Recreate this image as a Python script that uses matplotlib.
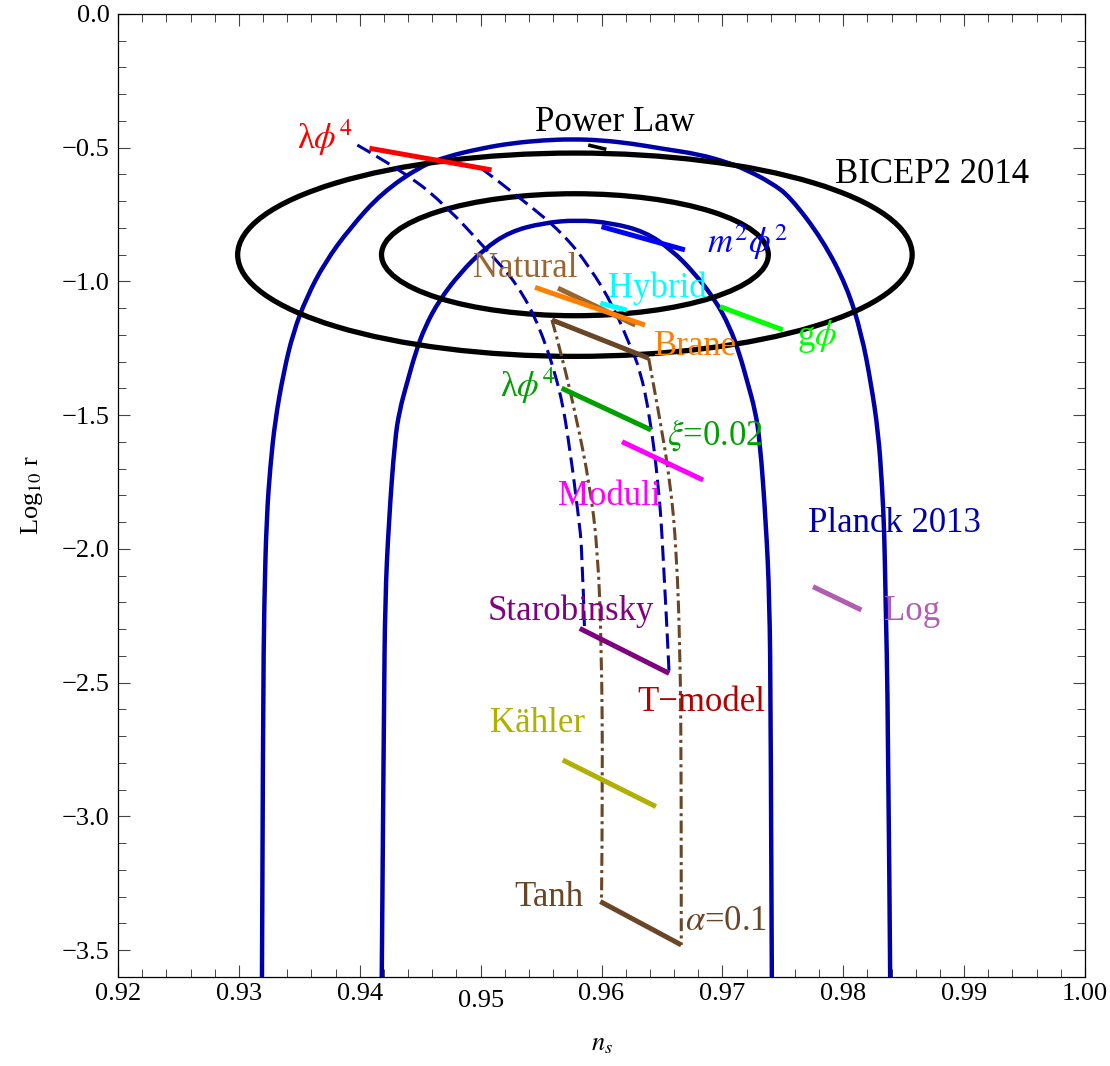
"""ns - log10 r plane: Planck 2013 / BICEP2 2014 contours with inflation model predictions."""
import numpy as np
import matplotlib

matplotlib.use("Agg")
import matplotlib.pyplot as plt
from matplotlib.patches import Ellipse, PathPatch
from matplotlib.path import Path
from matplotlib.ticker import MultipleLocator, FuncFormatter

plt.rcParams["font.family"] = ["Liberation Serif", "DejaVu Serif"]
plt.rcParams["mathtext.fontset"] = "stix"

# Planck 2013 contours (ns, log10 r)
planck_out_ns = [0.9319, 0.9320, 0.9321, 0.9323, 0.9326, 0.9330, 0.9337, 0.9345, 0.9356,
                 0.9371, 0.9392, 0.9418, 0.9450, 0.9472, 0.9501, 0.9526, 0.9552, 0.9576,
                 0.9600, 0.9626, 0.9652, 0.9680, 0.9705, 0.9720, 0.9740, 0.9756, 0.9783,
                 0.9803, 0.9815, 0.9823, 0.9829, 0.9832, 0.9834, 0.9835, 0.9837, 0.9839]
planck_out_lr = [-3.70, -2.60, -2.19, -1.88, -1.69, -1.52, -1.34, -1.19, -1.06,
                 -0.93, -0.80, -0.67, -0.57, -0.533, -0.502, -0.483, -0.472, -0.468,
                 -0.472, -0.485, -0.505, -0.524, -0.556, -0.583, -0.630, -0.683, -0.845,
                 -1.019, -1.194, -1.381, -1.567, -1.754, -1.941, -2.19, -2.60, -3.70]
planck_in_ns = [0.9418, 0.9420, 0.9421, 0.9424, 0.9429, 0.9433, 0.9439, 0.9446, 0.9454,
                0.9466, 0.9483, 0.9502, 0.9524, 0.9552, 0.9580, 0.9608, 0.9636, 0.9658,
                0.9677, 0.9694, 0.9706, 0.9714, 0.9721, 0.9727, 0.9731, 0.9736, 0.9739,
                0.9740, 0.9741]
planck_in_lr = [-3.70, -2.60, -2.19, -1.90, -1.593, -1.480, -1.381, -1.268, -1.169,
                -1.069, -0.969, -0.882, -0.814, -0.781, -0.770, -0.781, -0.814, -0.882,
                -0.969, -1.069, -1.169, -1.268, -1.381, -1.480, -1.593, -1.90, -2.19,
                -2.60, -3.70]

# BICEP2 2014 ellipses: centre, half widths (ns, log10 r)
bicep_center = (0.9578, -0.90)
bicep_half_ns = [0.0279, 0.0160]
bicep_half_lr = [0.380, 0.228]

# blue dashed (phi^2 .. phi^4 family) and brown dash-dot (tanh family) tracks
dash_left_ns = [0.9398, 0.9439, 0.9472, 0.9505, 0.9530, 0.9549, 0.9566, 0.9574, 0.9581, 0.9584, 0.9586]
dash_left_lr = [-0.490, -0.596, -0.720, -0.882, -1.007, -1.169, -1.406, -1.630, -1.879, -2.004, -2.309]
dash_right_ns = [0.9500, 0.9535, 0.9568, 0.9590, 0.9610, 0.9624, 0.9632, 0.9640, 0.9647, 0.9651, 0.9656]
dash_right_lr = [-0.575, -0.695, -0.820, -0.944, -1.094, -1.244, -1.331, -1.505, -1.754, -2.004, -2.471]
dd_left_ns = [0.9559, 0.9566, 0.9579, 0.9590, 0.9597, 0.9600, 0.9601, 0.9600]
dd_left_lr = [-1.144, -1.256, -1.505, -1.754, -2.004, -2.378, -2.864, -3.318]
dd_right_ns = [0.9639, 0.9648, 0.9657, 0.9662, 0.9665, 0.9666, 0.9666]
dd_right_lr = [-1.287, -1.505, -1.754, -2.004, -2.378, -2.826, -3.480]

# model segments: (ns0, lr0) -> (ns1, lr1)
seg_name = ["lphi4", "power", "m2phi2", "natural", "brane", "hybrid", "tanh_top", "gphi",
            "lphi4_xi", "moduli", "starobinsky", "kahler", "tanh", "log"]
seg_ns0 = [0.9408, 0.9589, 0.9600, 0.9564, 0.9545, 0.9599, 0.9559, 0.9698,
           0.9567, 0.9617, 0.9582, 0.9568, 0.9599, 0.9775]
seg_lr0 = [-0.502, -0.490, -0.795, -1.025, -1.022, -1.081, -1.144, -1.094,
           -1.399, -1.599, -2.297, -2.789, -3.318, -2.141]
seg_ns1 = [0.9509, 0.9604, 0.9669, 0.9628, 0.9636, 0.9621, 0.9639, 0.9750,
           0.9641, 0.9684, 0.9656, 0.9645, 0.9666, 0.9815]
seg_lr1 = [-0.583, -0.506, -0.882, -1.163, -1.163, -1.107, -1.287, -1.181,
           -1.555, -1.742, -2.465, -2.963, -3.480, -2.228]
seg_color = ["#ff0000", "#000000", "#0000ff", "#996633", "#ff8000", "#00ffff", "#6b4626", "#00ff00",
             "#00a000", "#ff00ff", "#800080", "#b0b000", "#6b4626", "#b05fb0"]

# labels (left edge ns, baseline log10 r)
lab_text = [r"λ$\phi^4$", "Power Law", "BICEP2 2014", r"$m^2\phi^2$", "Natural", "Hybrid",
            "Brane", r"g$\phi$", r"λ$\phi^4$", r"$\xi$=0.02", "Moduli", "Planck 2013", "Log",
            "Starobinsky", "T\u2212model", "Kähler", "Tanh", r"$\alpha$=0.1"]
lab_ns = [0.9348, 0.9545, 0.9793, 0.9687, 0.9494, 0.9605, 0.9643, 0.9762, 0.9516, 0.9654,
          0.9564, 0.9771, 0.9834, 0.9506, 0.9630, 0.9508, 0.9528, 0.9669]
lab_lr = [-0.505, -0.437, -0.632, -0.894, -0.982, -1.057, -1.275, -1.237, -1.431, -1.611,
          -1.836, -1.935, -2.265, -2.265, -2.604, -2.683, -3.335, -3.424]
lab_color = ["#ff0000", "#000000", "#000000", "#0000ff", "#996633", "#00ffff", "#ff8000",
             "#00ff00", "#00a000", "#00a000", "#ff00ff", "#0000a8", "#b05fb0", "#800080",
             "#b30000", "#b0b000", "#6b4626", "#6b4626"]

PLANCK = "#0000a8"
BROWN = "#6b4626"


def fmt(v, _pos, nd):
    s = f"{v:.{nd}f}"
    if float(s) == 0:
        s = f"{0:.{nd}f}"
    return s.replace("-", "\u2212")


def smooth_curve(ax, xs, ys, **kw):
    """Draw the read points as a smooth quadratic-Bezier path (like Mathematica's curves)."""
    pts = np.column_stack([xs, ys])
    verts, codes = [pts[0]], [Path.MOVETO]
    n = len(pts)
    for i in range(1, n - 1):
        end = pts[i + 1] if i == n - 2 else (pts[i] + pts[i + 1]) / 2
        verts += [pts[i], end]
        codes += [Path.CURVE3, Path.CURVE3]
    ax.add_patch(PathPatch(Path(verts, codes), fill=False, **kw))


def main() -> None:
    fig = plt.figure(figsize=(11.1, 10.66), dpi=100)
    ax = fig.add_axes([0.1063, 0.0835, 0.8712, 0.9034])

    smooth_curve(ax, planck_out_ns, planck_out_lr, ec=PLANCK, lw=3.2, zorder=2)
    smooth_curve(ax, planck_in_ns, planck_in_lr, ec=PLANCK, lw=3.2, zorder=2)

    for hx, hy in zip(bicep_half_ns, bicep_half_lr):
        ax.add_patch(Ellipse(bicep_center, 2 * hx, 2 * hy, fill=False, ec="black", lw=3.8, zorder=3))

    smooth_curve(ax, dash_left_ns, dash_left_lr, ec=PLANCK, lw=2.2, ls=(0, (5, 2.2)), zorder=4)
    smooth_curve(ax, dash_right_ns, dash_right_lr, ec=PLANCK, lw=2.2, ls=(0, (5, 2.2)), zorder=4)
    smooth_curve(ax, dd_left_ns, dd_left_lr, ec=BROWN, lw=2.2, ls=(0, (4.2, 1.4, 1.0, 1.4)), zorder=4)
    smooth_curve(ax, dd_right_ns, dd_right_lr, ec=BROWN, lw=2.2, ls=(0, (4.2, 1.4, 1.0, 1.4)), zorder=4)

    for x0, y0, x1, y1, c in zip(seg_ns0, seg_lr0, seg_ns1, seg_lr1, seg_color):
        lw = 2.6 if c == "#000000" else 3.6
        ax.plot([x0, x1], [y0, y1], color=c, lw=lw, solid_capstyle="butt", zorder=5)

    for t, x, y, c in zip(lab_text, lab_ns, lab_lr, lab_color):
        ax.text(x, y, t, color=c, fontsize=25, ha="left", va="baseline", zorder=6)

    ax.set_xlim(0.92, 1.00)
    ax.set_ylim(-3.6, 0.0)
    ax.xaxis.set_major_locator(MultipleLocator(0.01))
    ax.xaxis.set_minor_locator(MultipleLocator(0.002))
    ax.yaxis.set_major_locator(MultipleLocator(0.5))
    ax.yaxis.set_minor_locator(MultipleLocator(0.1))
    ax.xaxis.set_major_formatter(FuncFormatter(lambda v, p: fmt(v, p, 2)))
    ax.yaxis.set_major_formatter(FuncFormatter(lambda v, p: fmt(v, p, 1)))
    ax.tick_params(which="both", direction="in", top=True, right=True, colors="#444444",
                   labelcolor="black", labelsize=19)
    ax.tick_params(which="major", length=8.5, width=0.8)
    ax.tick_params(which="minor", length=5.5, width=0.7)
    ax.tick_params(axis="y", pad=6)
    ax.tick_params(axis="x", pad=4)
    for sp in ax.spines.values():
        sp.set_linewidth(0.9)

    ax.set_xlabel(r"$n_s$", fontsize=19, labelpad=16)
    ax.set_ylabel(r"Log$_{10}$ r", fontsize=19, labelpad=12)

    # the 0.95 tick label sits a little lower in the original
    fig.canvas.draw()
    for tick in ax.xaxis.get_major_ticks():
        if abs(tick.get_loc() - 0.95) < 1e-9:
            tick.label1.set_y(-0.008)

    fig.savefig("out.png", dpi=100)


if __name__ == "__main__":
    main()
